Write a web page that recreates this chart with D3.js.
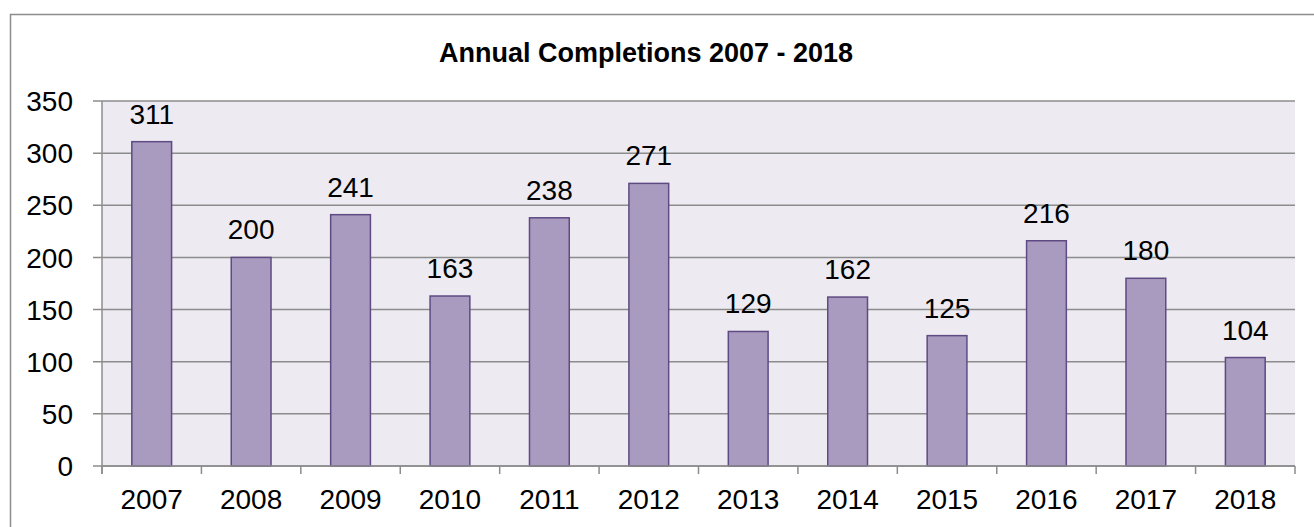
<!doctype html>
<html>
<head>
    <meta charset="UTF-8">
    <style>
        body { margin: 0; background: #fff; }
        text { font-family: "Liberation Sans", Arial, sans-serif; fill: #000; }
    </style>
</head>
<body>
    <svg id="chart" width="1314" height="527"></svg>
    <script src="https://d3js.org/d3.v7.min.js"></script>
    <script>

        // data
        var years = ["2007", "2008", "2009", "2010", "2011", "2012", "2013", "2014", "2015", "2016", "2017", "2018"];
        var completions = [311, 200, 241, 163, 238, 271, 129, 162, 125, 216, 180, 104];
        var yTicks = [0, 50, 100, 150, 200, 250, 300, 350];

        var svg = d3.select("#chart");

        // plot area
        var plotLeft = 102, plotRight = 1295, plotTop = 101, plotBottom = 466;

        var x = d3.scaleBand()
            .domain(years)
            .range([plotLeft, plotRight])
            .paddingInner(0.6)
            .paddingOuter(0.3);

        var y = d3.scaleLinear()
            .domain([0, 350])
            .range([plotBottom, plotTop]);

        // outer chart border (right/bottom fall outside the view)
        svg.append("rect")
            .attr("x", 10.5).attr("y", 14.5)
            .attr("width", 1320).attr("height", 540)
            .attr("fill", "none")
            .attr("stroke", "#8c8c8c")
            .attr("stroke-width", 1.5);

        // title
        svg.append("text")
            .attr("x", 646).attr("y", 62)
            .attr("text-anchor", "middle")
            .style("font-size", "27px")
            .style("font-weight", "bold")
            .text("Annual Completions 2007 - 2018");

        // background
        svg.append("rect")
            .attr("x", plotLeft).attr("y", plotTop)
            .attr("width", plotRight - plotLeft).attr("height", plotBottom - plotTop)
            .attr("fill", "#edebf1");

        // gridlines
        svg.append("g")
            .selectAll("line")
            .data(yTicks)
            .enter().append("line")
            .attr("x1", plotLeft - 9).attr("x2", plotRight)
            .attr("y1", d => y(d)).attr("y2", d => y(d))
            .attr("stroke", "#8c8c8c")
            .attr("stroke-width", 1.5);

        // y labels
        svg.append("g")
            .selectAll("text")
            .data(yTicks)
            .enter().append("text")
            .attr("x", 73)
            .attr("y", d => y(d))
            .attr("dy", "0.36em")
            .attr("text-anchor", "end")
            .style("font-size", "28px")
            .text(d => d);

        // y axis line
        svg.append("line")
            .attr("x1", plotLeft).attr("x2", plotLeft)
            .attr("y1", plotTop).attr("y2", plotBottom + 8)
            .attr("stroke", "#8c8c8c")
            .attr("stroke-width", 1.5);

        // bars
        svg.append("g")
            .selectAll("rect")
            .data(completions)
            .enter().append("rect")
            .attr("x", (d, i) => x(years[i]))
            .attr("y", d => y(d))
            .attr("width", x.bandwidth())
            .attr("height", d => y(0) - y(d))
            .attr("fill", "#a99bbf")
            .attr("stroke", "#5f4a84")
            .attr("stroke-width", 1.5);

        // value labels
        svg.append("g")
            .selectAll("text")
            .data(completions)
            .enter().append("text")
            .attr("x", (d, i) => x(years[i]) + x.bandwidth() / 2)
            .attr("y", d => y(d) - 18)
            .attr("text-anchor", "middle")
            .style("font-size", "28px")
            .text(d => d);

        // x axis line + ticks between categories
        svg.append("line")
            .attr("x1", plotLeft).attr("x2", plotRight)
            .attr("y1", plotBottom).attr("y2", plotBottom)
            .attr("stroke", "#8c8c8c")
            .attr("stroke-width", 1.5);

        var step = x.step();
        var bounds = d3.range(years.length + 1).map(i => plotLeft + i * step);
        svg.append("g")
            .selectAll("line")
            .data(bounds)
            .enter().append("line")
            .attr("x1", d => d).attr("x2", d => d)
            .attr("y1", plotBottom).attr("y2", plotBottom + 8)
            .attr("stroke", "#8c8c8c")
            .attr("stroke-width", 1.5);

        // x labels
        svg.append("g")
            .selectAll("text")
            .data(years)
            .enter().append("text")
            .attr("x", d => x(d) + x.bandwidth() / 2)
            .attr("y", 509)
            .attr("text-anchor", "middle")
            .style("font-size", "28px")
            .text(d => d);

    </script>
</body>
</html>
